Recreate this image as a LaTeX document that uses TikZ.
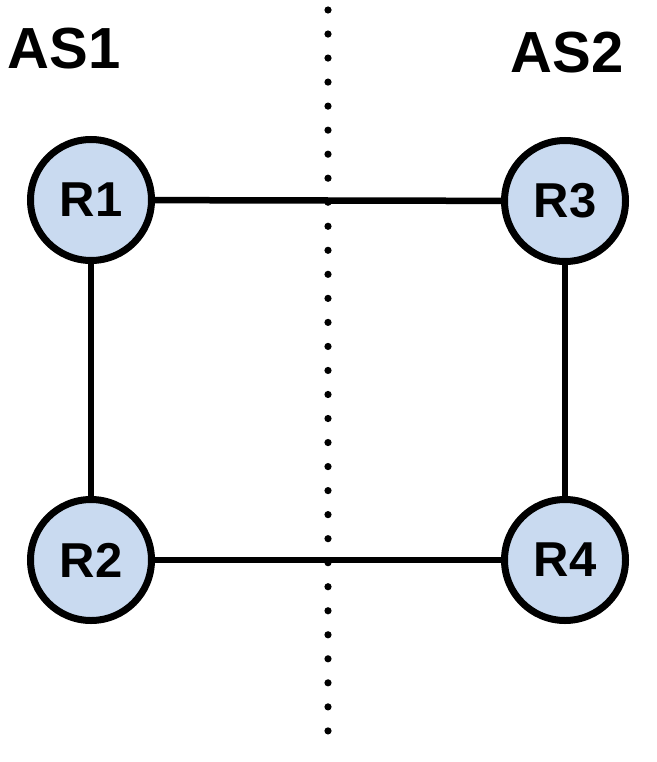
\documentclass[tikz,border=0pt]{standalone}
\usepackage{fontspec}
\setmainfont{Liberation Sans}
\begin{document}
\begin{tikzpicture}[x=1pt,y=-1pt,
  router/.style={circle,draw=black,line width=7pt,fill=routerblue,minimum size=121pt,inner sep=0pt,
    font=\fontsize{49}{49}\selectfont\bfseries},
  aslabel/.style={inner sep=0pt,font=\fontsize{58}{58}\selectfont\bfseries},
  link/.style={line width=6.5pt}]
\definecolor{routerblue}{HTML}{C9DAF0}
\useasboundingbox (0,0) rectangle (656,762);
\foreach \i in {0,...,30} {
  \fill (328,{10+\i*24.03}) circle (3.6pt);
}
\node[aslabel,anchor=center] (as1) at (64,49) {AS1};
\node[aslabel,anchor=center] (as2) at (567,53) {AS2};
\node[router] (r1) at (91,200) {R1};
\node[router] (r2) at (91,560) {R2};
\node[router] (r3) at (565,201) {R3};
\node[router] (r4) at (565,560) {R4};
\draw[link] (r1) -- (r3);
\draw[link] (r2) -- (r4);
\draw[link] (r1) -- (r2);
\draw[link] (r3) -- (r4);
\end{tikzpicture}
\end{document}
